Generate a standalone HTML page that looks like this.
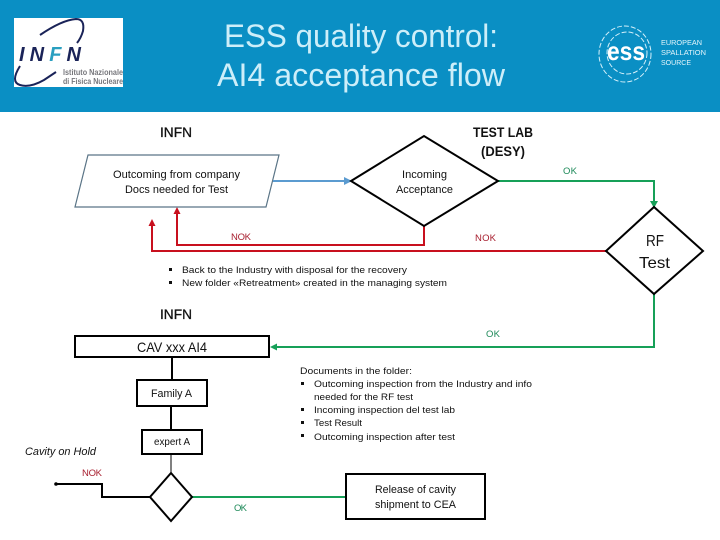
<!DOCTYPE html>
<html><head><meta charset="utf-8"><style>
html,body{margin:0;padding:0;background:#fff}
svg{display:block}
text{font-family:"Liberation Sans",sans-serif;fill:#111}
</style></head><body>
<svg width="720" height="540" viewBox="0 0 720 540" xmlns="http://www.w3.org/2000/svg">
<rect width="720" height="540" fill="#fff"/>
<rect width="720" height="112" fill="#0a8fc4"/>
<!-- INFN logo -->
<rect x="14" y="18" width="109" height="69" fill="#fff"/>
<path d="M40 35 Q62 20 76 19 Q85 19 83 31 Q81 38 77 43" fill="none" stroke="#1a2358" stroke-width="2"/>
<path d="M20 66 Q10 82 20 85 Q30 88 44 80 L56 72" fill="none" stroke="#1a2358" stroke-width="2"/>
<text x="19" y="61" font-size="20" font-weight="bold" font-style="italic" textLength="62" style="fill:#1a2358">IN<tspan style="fill:#2a9fc0">F</tspan>N</text>
<text x="63" y="75" font-size="8" font-weight="bold" textLength="60" lengthAdjust="spacingAndGlyphs" style="fill:#77777c">Istituto Nazionale</text>
<text x="63" y="84" font-size="8" font-weight="bold" textLength="60" lengthAdjust="spacingAndGlyphs" style="fill:#77777c">di Fisica Nucleare</text>
<!-- ESS logo -->
<g fill="none" stroke="#d5f0fa" stroke-width="1" stroke-dasharray="5 2">
<ellipse cx="625" cy="54" rx="26" ry="28"/>
<ellipse cx="627" cy="53" rx="20" ry="21"/>
</g>
<text x="607" y="60" font-size="26" font-weight="bold" textLength="38" lengthAdjust="spacingAndGlyphs" style="fill:#fff">ess</text>
<text x="661" y="45" font-size="7.500" textLength="41" lengthAdjust="spacingAndGlyphs" style="fill:#e4f5fb">EUROPEAN</text>
<text x="661" y="55" font-size="7.500" textLength="45" lengthAdjust="spacingAndGlyphs" style="fill:#e4f5fb">SPALLATION</text>
<text x="661" y="65" font-size="7.500" textLength="30" lengthAdjust="spacingAndGlyphs" style="fill:#e4f5fb">SOURCE</text>
<!-- Title -->
<text x="224" y="47" font-size="32" textLength="274" lengthAdjust="spacingAndGlyphs" style="fill:#cdeef9">ESS quality control:</text>
<text x="217" y="86" font-size="32" textLength="288" lengthAdjust="spacingAndGlyphs" style="fill:#cdeef9">AI4 acceptance flow</text>
<!-- headings -->
<text x="160" y="137" font-size="14" textLength="32" lengthAdjust="spacingAndGlyphs" stroke="#111" stroke-width="0.300">INFN</text>
<text x="473" y="137" font-size="14" font-weight="bold" textLength="60" lengthAdjust="spacingAndGlyphs">TEST LAB</text>
<text x="481" y="156" font-size="14" font-weight="bold" textLength="44" lengthAdjust="spacingAndGlyphs">(DESY)</text>
<text x="160" y="319" font-size="14" textLength="32" lengthAdjust="spacingAndGlyphs" stroke="#111" stroke-width="0.300">INFN</text>
<!-- red connectors -->
<g fill="none" stroke="#c8101e" stroke-width="2">
<path d="M424 226V245H177V212"/>
<path d="M606 251H152V222"/>
</g>
<polygon points="177,207 173.500,214 180.500,214" fill="#c8101e"/>
<polygon points="152,219 148.500,226 155.500,226" fill="#c8101e"/>
<!-- parallelogram -->
<polygon points="88,155 279,155 266,207 75,207" fill="#fff" stroke="#5a7486" stroke-width="1.200"/>
<text x="113" y="178" font-size="11" textLength="127" lengthAdjust="spacingAndGlyphs">Outcoming from company</text>
<text x="125" y="193" font-size="11" textLength="103" lengthAdjust="spacingAndGlyphs">Docs needed for Test</text>
<!-- blue -->
<path d="M273 181H348" fill="none" stroke="#5b9bd0" stroke-width="2"/>
<polygon points="352,181 344,177 344,185" fill="#5b9bd0"/>
<!-- green -->
<g fill="none" stroke="#16a058" stroke-width="2">
<path d="M498 181H654V204"/>
<path d="M654 294V347H275"/>
<path d="M192 497H346"/>
</g>
<polygon points="654,208 650,201 658,201" fill="#16a058"/>
<polygon points="270,347 277,343.500 277,350.500" fill="#16a058"/>
<!-- diamonds -->
<polygon points="351,181 424,136 498,181 424,226" fill="#fff" stroke="#000" stroke-width="2"/>
<text x="402" y="178" font-size="11" textLength="45" lengthAdjust="spacingAndGlyphs">Incoming</text>
<text x="396" y="193" font-size="11" textLength="57" lengthAdjust="spacingAndGlyphs">Acceptance</text>
<polygon points="606,251 654,207 703,251 654,294" fill="#fff" stroke="#000" stroke-width="2"/>
<text x="646" y="246" font-size="16" textLength="18" lengthAdjust="spacingAndGlyphs">RF</text>
<text x="639" y="268" font-size="16" textLength="31" lengthAdjust="spacingAndGlyphs">Test</text>
<!-- labels -->
<text x="563" y="174" font-size="9.500" textLength="14" style="fill:#1f8a5a">OK</text>
<text x="231" y="240" font-size="9.500" textLength="20" style="fill:#a82030">NOK</text>
<text x="475" y="241" font-size="9.500" textLength="21" style="fill:#a82030">NOK</text>
<text x="486" y="337" font-size="9.500" textLength="14" style="fill:#1f8a5a">OK</text>
<text x="82" y="476" font-size="9.500" textLength="20" style="fill:#a82030">NOK</text>
<text x="234" y="511" font-size="9.500" textLength="13" style="fill:#1f8a5a">OK</text>
<!-- bullets upper -->
<rect x="169" y="268" width="3" height="3" fill="#111"/>
<rect x="169" y="281" width="3" height="3" fill="#111"/>
<text x="182" y="273" font-size="9.500" textLength="225" lengthAdjust="spacingAndGlyphs">Back to the Industry with disposal for the recovery</text>
<text x="182" y="286" font-size="9.500" textLength="265" lengthAdjust="spacingAndGlyphs">New folder «Retreatment» created in the managing system</text>
<!-- lower flow -->
<g fill="none" stroke="#000">
<path d="M172 358V380" stroke-width="2"/>
<path d="M171 406V430" stroke-width="2"/>
<path d="M171 454V473" stroke-width="1"/>
<path d="M150 497H102V484H55" stroke-width="2"/>
</g>
<circle cx="56" cy="484" r="1.800" fill="#000"/>
<rect x="75" y="336" width="194" height="21" fill="#fff" stroke="#000" stroke-width="2"/>
<text x="137" y="352" font-size="14" textLength="70" lengthAdjust="spacingAndGlyphs">CAV xxx AI4</text>
<rect x="137" y="380" width="70" height="26" fill="#fff" stroke="#000" stroke-width="2"/>
<text x="151" y="397" font-size="11" textLength="41" lengthAdjust="spacingAndGlyphs">Family A</text>
<rect x="142" y="430" width="60" height="24" fill="#fff" stroke="#000" stroke-width="2"/>
<text x="154" y="445" font-size="10" textLength="36" lengthAdjust="spacingAndGlyphs">expert A</text>
<polygon points="171,473 192,497 171,521 150,497" fill="#fff" stroke="#000" stroke-width="2"/>
<text x="25" y="455" font-size="11" font-style="italic" textLength="71" lengthAdjust="spacingAndGlyphs">Cavity on Hold</text>
<rect x="346" y="474" width="139" height="45" fill="#fff" stroke="#000" stroke-width="2"/>
<text x="375" y="493" font-size="11" textLength="81" lengthAdjust="spacingAndGlyphs">Release of cavity</text>
<text x="375" y="508" font-size="11" textLength="81" lengthAdjust="spacingAndGlyphs">shipment to CEA</text>
<!-- documents -->
<text x="300" y="374" font-size="9.500" textLength="112" lengthAdjust="spacingAndGlyphs">Documents in the folder:</text>
<rect x="301" y="382" width="3" height="3" fill="#111"/>
<text x="314" y="387" font-size="9.500" textLength="218" lengthAdjust="spacingAndGlyphs">Outcoming inspection from the Industry and info</text>
<text x="314" y="400" font-size="9.500" textLength="99" lengthAdjust="spacingAndGlyphs">needed for the RF test</text>
<rect x="301" y="408" width="3" height="3" fill="#111"/>
<text x="314" y="413" font-size="9.500" textLength="141" lengthAdjust="spacingAndGlyphs">Incoming inspection del test lab</text>
<rect x="301" y="421" width="3" height="3" fill="#111"/>
<text x="314" y="426" font-size="9.500" textLength="48" lengthAdjust="spacingAndGlyphs">Test Result</text>
<rect x="301" y="434" width="3" height="3" fill="#111"/>
<text x="314" y="440" font-size="9.500" textLength="141" lengthAdjust="spacingAndGlyphs">Outcoming inspection after test</text>
</svg>
</body></html>
